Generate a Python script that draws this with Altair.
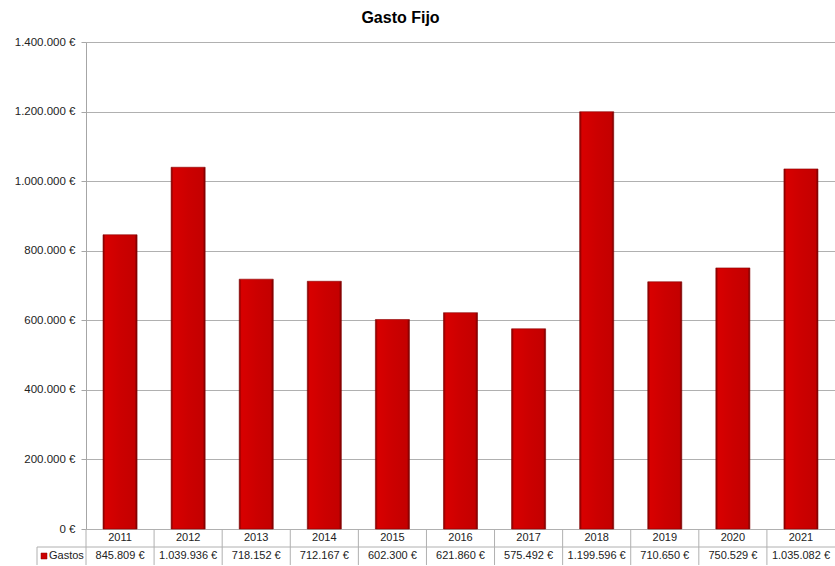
import altair as alt
import pandas as pd

# Annual fixed expenses
years = ["2011", "2012", "2013", "2014", "2015", "2016", "2017", "2018", "2019", "2020", "2021"]
gastos = [845809, 1039936, 718152, 712167, 602300, 621860, 575492, 1199596, 710650, 750529, 1035082]
series_name = "Gastos"


def euro(v):
    return f"{v:,.0f}".replace(",", ".") + " €"


df = pd.DataFrame({"year": years, "gastos": gastos})
df["label"] = [euro(v) for v in gastos]

FONT = "Liberation Sans"
W, H = 749, 487
ROW1, ROW2, ROW_SPLIT, TABLE_BOTTOM = 496, 514, 505, 523
LEG_LEFT = -49

x = alt.X("year:N", sort=years, axis=None,
          scale=alt.Scale(paddingInner=0, paddingOuter=0))

bar_fill = alt.Gradient(
    gradient="linear", x1=0, x2=1, y1=0, y2=0,
    stops=[
        alt.GradientStop(color="#7a0000", offset=0),
        alt.GradientStop(color="#d80000", offset=0.07),
        alt.GradientStop(color="#cc0000", offset=0.5),
        alt.GradientStop(color="#c40000", offset=0.93),
        alt.GradientStop(color="#6e0000", offset=1),
    ],
)

base = alt.Chart(df)

bars = base.mark_bar(width={"band": 0.5}, fill=bar_fill, stroke="#8a0000",
                     strokeWidth=0.6).encode(
    x=x,
    y=alt.Y("gastos:Q",
            scale=alt.Scale(domain=[0, 1400000], nice=False),
            axis=alt.Axis(
                title=None, values=list(range(0, 1400001, 200000)),
                labelExpr="replace(format(datum.value, ','), regexp(',', 'g'), '.') + ' €'",
                labelFont=FONT, labelFontSize=11.5, labelColor="#222222", labelPadding=6,
                tickSize=5, tickColor="#a6a6a6", domainColor="#a6a6a6",
                grid=True, gridColor="#b0b0b0", gridWidth=1,
            )),
)

# Data table under the plot: year row and value row
year_text = base.mark_text(font=FONT, fontSize=11, color="#222222").encode(
    x=x, y=alt.value(ROW1), text="year:N")
value_text = base.mark_text(font=FONT, fontSize=11, color="#222222").encode(
    x=x, y=alt.value(ROW2), text="label:N")

cell_lines = base.mark_rule(color="#b0b0b0", strokeWidth=1).encode(
    x=alt.X("year:N", sort=years, bandPosition=0, axis=None,
            scale=alt.Scale(paddingInner=0, paddingOuter=0)),
    y=alt.value(H), y2=alt.value(TABLE_BOTTOM))

row_line = alt.Chart(pd.DataFrame({"k": [0]})).mark_rule(
    color="#b0b0b0", strokeWidth=1).encode(
    x=alt.value(LEG_LEFT), x2=alt.value(W), y=alt.value(ROW_SPLIT))
legend_border = alt.Chart(pd.DataFrame({"k": [0]})).mark_rule(
    color="#b0b0b0", strokeWidth=1).encode(
    x=alt.value(LEG_LEFT), y=alt.value(ROW_SPLIT), y2=alt.value(TABLE_BOTTOM))

legend_df = pd.DataFrame({"name": [series_name]})
legend_key = alt.Chart(legend_df).mark_square(
    size=36, color="#cc0000", stroke="#8a0000", strokeWidth=0.5, opacity=1).encode(
    x=alt.value(LEG_LEFT + 7), y=alt.value(ROW2))
legend_text = alt.Chart(legend_df).mark_text(
    font=FONT, fontSize=11, color="#222222", align="left").encode(
    x=alt.value(LEG_LEFT + 12), y=alt.value(ROW2), text="name:N")

chart = alt.layer(
    bars, cell_lines, row_line, legend_border, year_text, value_text,
    legend_key, legend_text,
).properties(
    width=W, height=H,
    title=alt.TitleParams("Gasto Fijo", font=FONT, fontSize=16, fontWeight="bold",
                          color="#000000", anchor="middle", dx=-60, offset=10),
    autosize=alt.AutoSizeParams(type="none"),
    padding={"left": 86, "top": 42, "right": 0, "bottom": 37},
).configure_view(stroke=None).configure(background="white")

chart.save("out.html", embed_options={"renderer": "svg", "actions": False})
